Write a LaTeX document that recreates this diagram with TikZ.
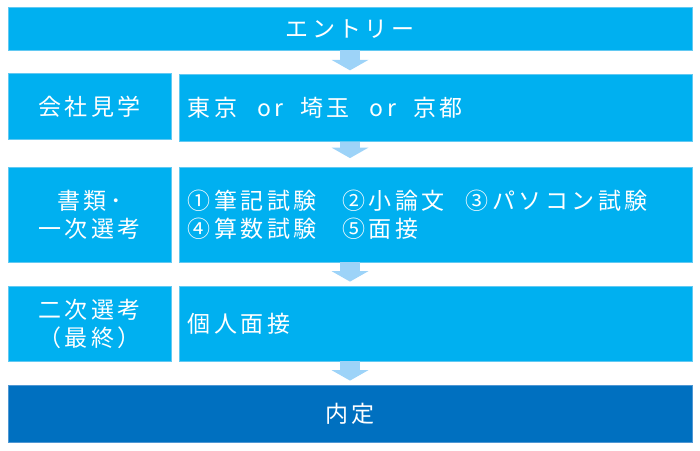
\documentclass[tikz,border=0pt]{standalone}
\usepackage{fontspec}
\usepackage{tikz}
\usetikzlibrary{arrows.meta}
\newfontfamily\jp[LetterSpace=15]{Noto Sans CJK JP}
\definecolor{boxblue}{HTML}{00B0F0}
\definecolor{boxedge}{HTML}{62C9F2}
\definecolor{darkblue}{HTML}{0070C0}
\definecolor{darkedge}{HTML}{4F97D3}
\definecolor{arrowblue}{HTML}{9DD3F8}
\tikzset{box/.style = {fill=boxblue, draw=boxedge, line width=.8pt, text=white, inner sep=0pt,
                       font={\jp\fontsize{23}{28}\selectfont}}}
\tikzset{wide/.style = {box, minimum width=684pt}}
\tikzset{label box/.style = {box, minimum width=163pt, align=center}}
\tikzset{item box/.style = {box, text width=496pt, inner xsep=8.3pt, align=left}}
\tikzset{flow/.style = {draw=arrowblue, line width=20pt, shorten >=4pt,
                        -{Triangle[width=37pt, length=10.5pt, line width=0pt]}}}

\begin{document}
\begin{tikzpicture}[x=10pt, y=10pt]
		\useasboundingbox (0, 0) rectangle (70, 45);
		\node [wide, minimum height=42.7pt] (0) at (35, 42.13) {エントリー};
		\node [label box, minimum height=66.5pt] (1) at (8.95, 34.375) {会社見学};
		\node [item box, minimum height=66.5pt] (2) at (43.57, 34.2) {東京\hspace{20pt}or\hspace{17pt}埼玉\hspace{20pt}or\hspace{17pt}京都};
		\node [label box, minimum height=95pt] (3) at (8.95, 23.55) {書類･\\一次選考};
		\node [item box, minimum height=95pt] (4) at (43.57, 23.55) {①筆記試験\hspace{26pt}②小論文\hspace{21pt}③パソコン試験\\④算数試験\hspace{26pt}⑤面接};
		\node [label box, minimum height=75pt] (5) at (8.95, 12.65) {二次選考\\（最終）};
		\node [item box, minimum height=75pt] (6) at (43.57, 12.65) {個人面接};
		\node [wide, minimum height=57pt, fill=darkblue, draw=darkedge] (7) at (35, 3.65) {内定};
		\draw [flow] (0.south) to (0.south |- 2.north);
		\draw [flow, shorten >=8.5pt] (0.south |- 2.south) to (0.south |- 4.north);
		\draw [flow] (0.south |- 4.south) to (0.south |- 6.north);
		\draw [flow] (0.south |- 6.south) to (7.north);
	\end{tikzpicture}
\end{document}
